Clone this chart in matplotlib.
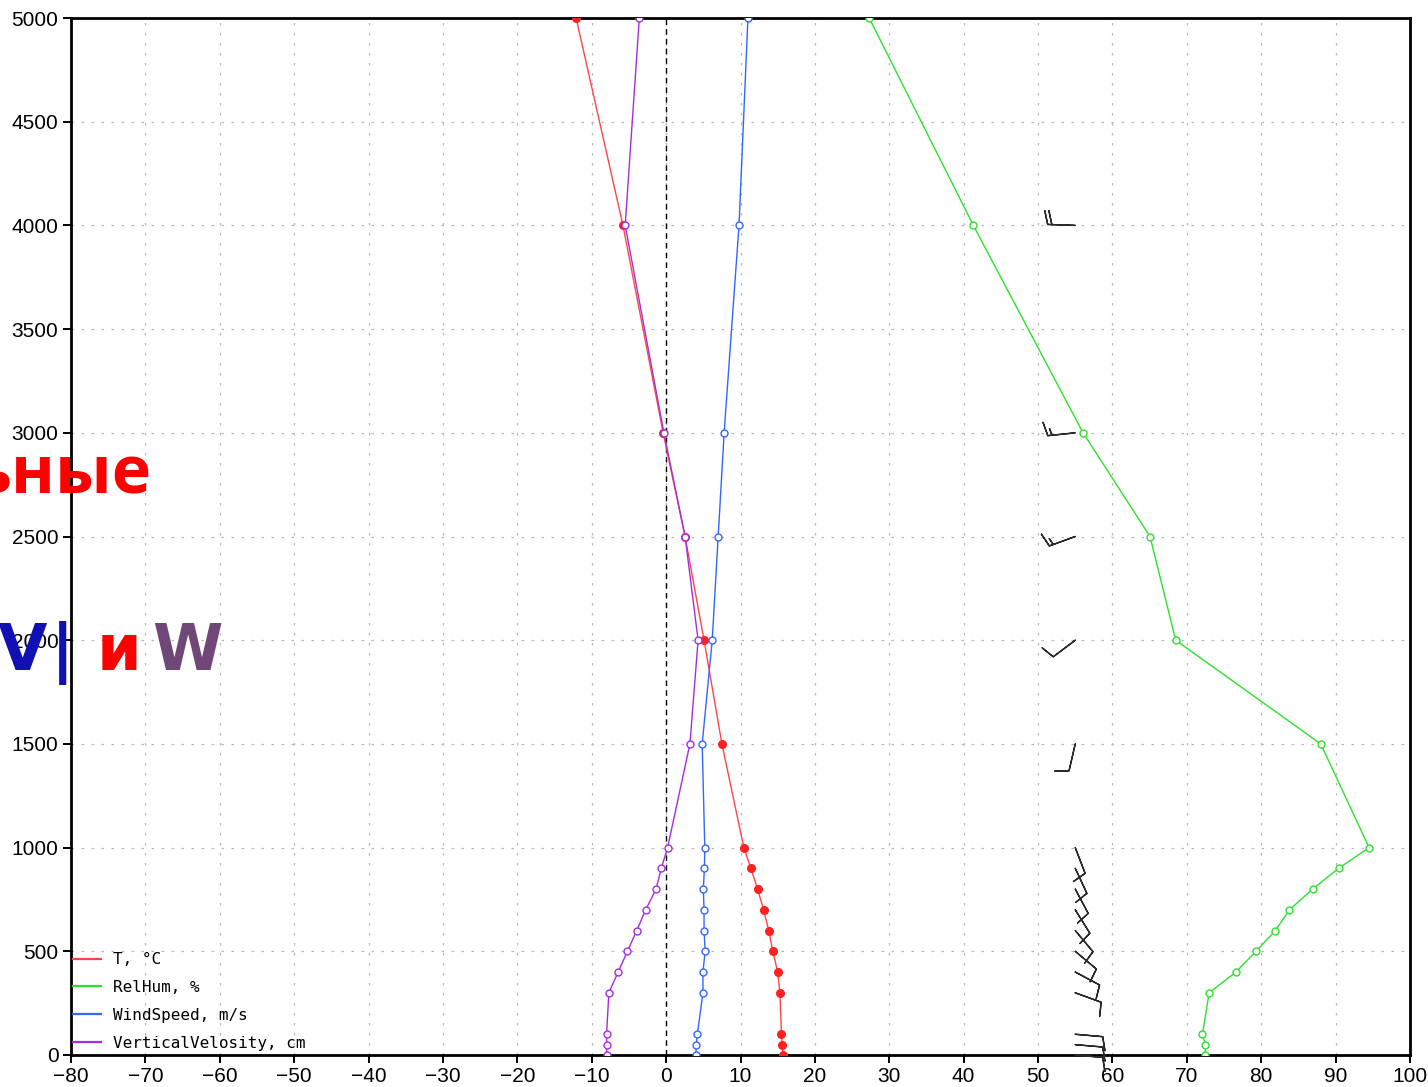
import numpy as np
import matplotlib
matplotlib.use("Agg")
import matplotlib.pyplot as plt
from matplotlib.lines import Line2D

# ---- data ----
heights = [0, 50, 100, 300, 400, 500, 600, 700, 800, 900, 1000, 1500, 2000, 2500, 3000, 4000, 5000]
temp = [15.7, 15.6, 15.5, 15.3, 15.0, 14.35, 13.8, 13.1, 12.3, 11.4, 10.45, 7.5, 5.1, 2.55, -0.4, -5.8, -12.1]
relhum = [72.5, 72.5, 72.1, 73.0, 76.6, 79.3, 81.9, 83.8, 86.9, 90.4, 94.5, 88.0, 68.5, 65.05, 56.05, 41.3, 27.3]
windspeed = [4.0, 4.05, 4.2, 4.95, 4.95, 5.25, 5.1, 5.1, 5.0, 5.15, 5.2, 4.85, 6.2, 7.0, 7.8, 9.8, 11.0]
vertvel = [-8.0, -8.0, -8.0, -7.7, -6.45, -5.2, -3.95, -2.75, -1.35, -0.65, 0.2, 3.2, 4.3, 2.55, -0.3, -5.5, -3.6]

barb_heights = [0, 50, 100, 300, 400, 500, 600, 700, 800, 900, 1000, 1500, 2000, 2500, 3000, 4000]
barb_dir = [95, 95, 95, 110, 118, 130, 140, 148, 152, 155, 159, 193, 233, 250, 264, 272]
barb_speed = [4.0, 4.05, 4.2, 4.95, 4.95, 5.25, 5.1, 5.1, 5.0, 5.15, 5.2, 4.85, 6.2, 7.0, 7.8, 9.8]
barb_x = 55

legend_labels = ["T, \u00b0C", "RelHum, %", "WindSpeed, m/s", "VerticalVelosity, cm"]
xticks = list(range(-80, 101, 10))
yticks = list(range(0, 5001, 500))

c_t = "#ff4545"
c_rh = "#2ee02e"
c_ws = "#3366ff"
c_vv = "#a52de0"

fig = plt.figure(figsize=(14.28, 10.87), dpi=100)
W, H = 1428, 1087
ax = fig.add_axes([71 / W, 1 - 1055 / H, (1410 - 71) / W, (1055 - 18) / H])

ax.set_xlim(-80, 100)
ax.set_ylim(0, 5000)
ax.set_xticks(xticks)
ax.set_yticks(yticks)
tickfont = dict(family=["Liberation Sans Narrow", "Liberation Sans", "DejaVu Sans"], size=15)
ax.set_xticklabels([f"{v:d}".replace("-", "\u2212") for v in xticks], fontdict=tickfont)
ax.set_yticklabels([str(v) for v in yticks], fontdict=tickfont)
ax.tick_params(direction="out", length=6, width=1.4, pad=3, colors="black")

ax.grid(True, color="#b8b8b8", linewidth=0.9, linestyle=(0, (2, 6)))
ax.set_axisbelow(True)
for s in ax.spines.values():
    s.set_linewidth(2.0)
    s.set_color("black")

ax.axvline(0, color="black", linewidth=1.0, linestyle=(0, (4, 3)), zorder=2)

ax.plot(temp, heights, color=c_t, lw=1.0, marker="o", ms=5.5, mfc="#ff2020", mec="#ff2020", zorder=4)
ax.plot(relhum, heights, color=c_rh, lw=1.0, marker="o", ms=5, mfc="white", mec=c_rh, mew=1.0, zorder=4)
ax.plot(windspeed, heights, color=c_ws, lw=1.0, marker="o", ms=5, mfc="white", mec=c_ws, mew=1.0, zorder=4)
ax.plot(vertvel, heights, color=c_vv, lw=1.0, marker="o", ms=5, mfc="white", mec=c_vv, mew=1.0, zorder=4)

# wind barbs (speed in knots, direction meteorological)
d = np.deg2rad(np.array(barb_dir, dtype=float))
spd_kt = np.array(barb_speed) * 1.94384
u = -spd_kt * np.sin(d)
v = -spd_kt * np.cos(d)
ax.barbs(np.full(len(barb_heights), barb_x), barb_heights, u, v, length=6.3,
         barbcolor="#2a2a2a", linewidth=1.0, sizes=dict(height=0.5, spacing=0.15),
         zorder=3, clip_on=False)

handles = [Line2D([], [], color=c, lw=1.6) for c in (c_t, c_rh, c_ws, c_vv)]
leg = ax.legend(handles, legend_labels, loc="lower left", bbox_to_anchor=(0, 0.002),
                frameon=False, borderpad=0.15, borderaxespad=0, handlelength=1.7,
                handletextpad=0.75, labelspacing=0.8,
                prop=dict(family="DejaVu Sans Mono", size=11.5))

# overlay slide text
big = dict(weight="bold")
fig.text(152 / W, 1 - 493 / H, "ьные", color="#ff0000", fontsize=48, ha="right", va="baseline",
         family=["Open Sans", "DejaVu Sans"], **big)
fig.text(47 / W, 1 - 670 / H, "V", color="#1010b4", fontsize=46, ha="right", va="baseline",
         family="DejaVu Sans", **big)
fig.text(63 / W, 1 - 670 / H, "|", color="#1010b4", fontsize=46, ha="center", va="baseline",
         family="DejaVu Sans", **big)
fig.text(97 / W, 1 - 670 / H, "и", color="#ff0000", fontsize=46, ha="left", va="baseline",
         family="DejaVu Sans", **big)
fig.text(152 / W, 1 - 670 / H, "W", color="#704878", fontsize=46, ha="left", va="baseline",
         family="DejaVu Sans", **big)

fig.savefig("out.png", dpi=100)
